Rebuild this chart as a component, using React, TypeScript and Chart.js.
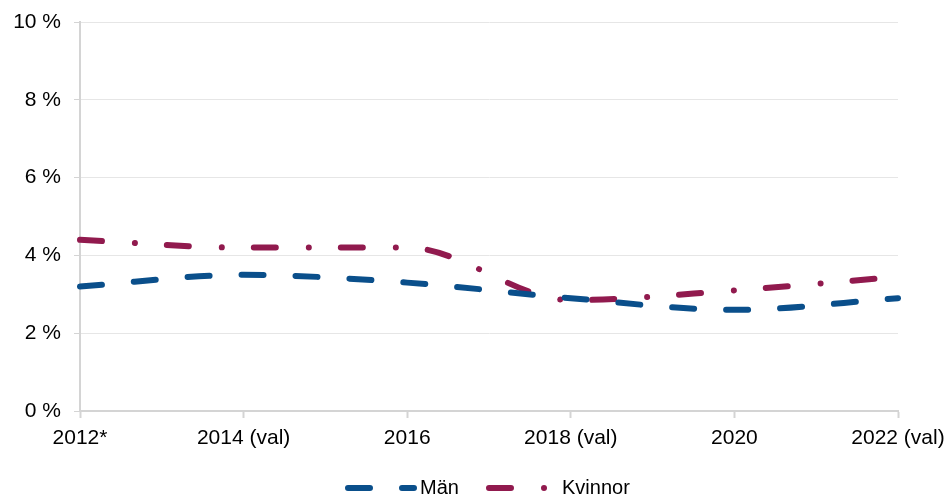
import React, { useEffect, useRef } from "react";
import { Chart, registerables } from "chart.js";

Chart.register(...registerables);

const categories = ["2012*", "2014 (val)", "2016", "2018 (val)", "2020", "2022 (val)"];
const manValues = [3.2, 3.5, 3.3, 2.9, 2.6, 2.9];
const kvinnorValues = [4.4, 4.2, 4.2, 2.85, 3.1, 3.45];
const seriesNames = ["Män", "Kvinnor"];
const yMin = 0;
const yMax = 10;
const yStep = 2;

const BLUE = "#0a4f8b";
const RED = "#911a4e";
const FONT = "'Liberation Sans', Arial, Helvetica, sans-serif";
const MAN_DASH = [22, 32];
const KV_DASH = [22, 33, 0.01, 32];

const legendPlugin = {
  id: "customLegend",
  afterDraw(chart: any) {
    const ctx = chart.ctx as CanvasRenderingContext2D;
    const y = 488;
    ctx.save();
    ctx.lineWidth = 6;
    ctx.lineCap = "round";
    ctx.strokeStyle = BLUE;
    ctx.setLineDash(MAN_DASH);
    ctx.beginPath();
    ctx.moveTo(348, y);
    ctx.lineTo(414, y);
    ctx.stroke();
    ctx.strokeStyle = RED;
    ctx.setLineDash(KV_DASH);
    ctx.beginPath();
    ctx.moveTo(489, y);
    ctx.lineTo(546, y);
    ctx.stroke();
    ctx.setLineDash([]);
    ctx.fillStyle = "#000";
    ctx.font = `20px ${FONT}`;
    ctx.textBaseline = "middle";
    ctx.textAlign = "left";
    ctx.fillText(seriesNames[0], 420, y);
    ctx.fillText(seriesNames[1], 562, y);
    ctx.restore();
  },
};

export default function App() {
  const ref = useRef<HTMLCanvasElement>(null);
  useEffect(() => {
    if (!ref.current) return;
    const chart = new Chart(ref.current, {
      type: "line",
      data: {
        labels: categories,
        datasets: [
          {
            label: seriesNames[0],
            data: manValues,
            borderColor: BLUE,
            borderWidth: 6,
            borderDash: MAN_DASH,
            borderCapStyle: "round",
            pointRadius: 0,
            cubicInterpolationMode: "monotone",
            fill: false,
          },
          {
            label: seriesNames[1],
            data: kvinnorValues,
            borderColor: RED,
            borderWidth: 6,
            borderDash: KV_DASH,
            borderCapStyle: "round",
            pointRadius: 0,
            cubicInterpolationMode: "monotone",
            fill: false,
          },
        ],
      },
      options: {
        animation: false,
        responsive: false,
        maintainAspectRatio: false,
        layout: { padding: { top: 22, right: 50, left: 0, bottom: 0 } },
        plugins: {
          legend: { display: false },
          tooltip: { enabled: false },
        },
        scales: {
          x: {
            type: "category",
            offset: false,
            grid: {
              drawOnChartArea: false,
              drawTicks: true,
              tickLength: 7,
              tickColor: "#d4d4d4",
              tickWidth: 2,
            },
            border: { display: true, color: "#d4d4d4", width: 2 },
            ticks: {
              color: "#000",
              font: { family: FONT, size: 21 },
              padding: 8,
              maxRotation: 0,
              autoSkip: false,
            },
            afterFit(scale: any) {
              scale.height = 86;
              scale.paddingLeft = 0;
              scale.paddingRight = 0;
            },
          },
          y: {
            min: yMin,
            max: yMax,
            grid: {
              color: "#e6e6e6",
              lineWidth: 1,
              drawTicks: true,
              tickLength: 6,
              tickColor: "#d4d4d4",
            },
            border: { display: true, color: "#d4d4d4", width: 2 },
            ticks: {
              stepSize: yStep,
              color: "#000",
              font: { family: FONT, size: 21 },
              padding: 13,
              callback: (v: any) => `${v} %`,
            },
            afterFit(scale: any) {
              scale.width = 80;
              scale.paddingTop = 0;
              scale.paddingBottom = 0;
            },
          },
        },
      },
      plugins: [legendPlugin],
    });
    return () => chart.destroy();
  }, []);
  return (
    <div style={{ position: "absolute", left: 0, top: 0, width: 948, height: 497, background: "#fff" }}>
      <canvas ref={ref} width={948} height={497} style={{ display: "block" }} />
    </div>
  );
}
